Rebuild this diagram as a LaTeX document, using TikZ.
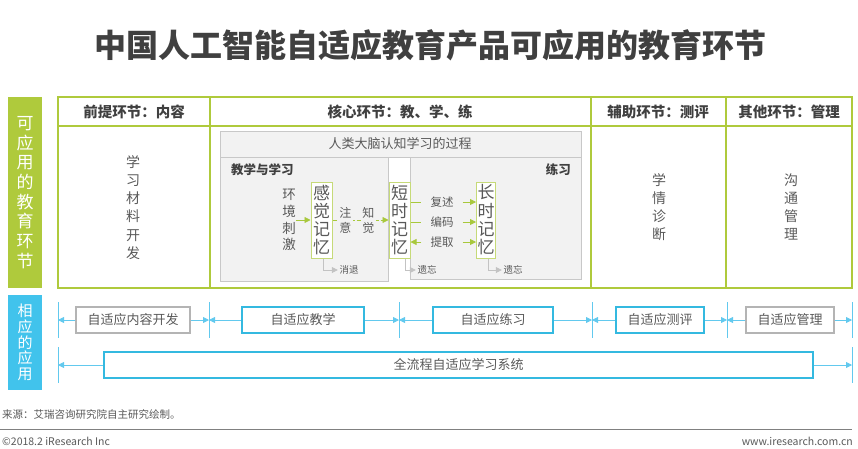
\documentclass[tikz,border=0pt]{standalone}
\usepackage{fontspec}
\setmainfont{Noto Sans CJK SC}
\usetikzlibrary{positioning, arrows.meta}
\definecolor{irgreen}{HTML}{AFCA3C}
\definecolor{memgreen}{HTML}{C6DA78}
\definecolor{arrgreen}{HTML}{A8C83C}
\definecolor{irblue}{HTML}{41C3EC}
\definecolor{boxblue}{HTML}{34B9E0}
\definecolor{lineblue}{HTML}{62C9EE}
\definecolor{boxgray}{HTML}{B4B4B4}
\definecolor{txtgray}{HTML}{595959}
\definecolor{darktxt}{HTML}{404040}
\definecolor{panelfill}{HTML}{F2F2F2}
\definecolor{panelline}{HTML}{C8C8C8}

\begin{document}
\begin{tikzpicture}[
    x=1pt, y=-1pt,
    bar/.style={minimum width=34, inner sep=0pt, align=center, text=white},
    head/.style={inner sep=0pt, text=darktxt, font=\bfseries\fontsize{14.5}{16}\selectfont},
    vert/.style={inner sep=0pt, align=center, text=txtgray, font=\fontsize{14}{18.2}\selectfont},
    mem/.style={draw=memgreen, line width=1pt, fill=white, minimum width=21, minimum height=76,
                inner sep=0pt, align=center, text=txtgray, font=\fontsize{17}{18.3}\selectfont},
    vlab/.style={inner sep=1.5pt, fill=panelfill, align=center, text=txtgray, font=\fontsize{12}{15}\selectfont},
    lab/.style={inner xsep=9pt, inner ysep=1pt, text=txtgray, font=\fontsize{11.5}{13}\selectfont},
    tiny/.style={inner sep=1.5pt, text=txtgray, font=\fontsize{9.5}{11}\selectfont},
    panel/.style={draw=panelline, fill=panelfill, line width=0.8pt},
    tab/.style={draw=irgreen, line width=2pt},
    tabin/.style={draw=irgreen, line width=1.5pt},
    garrow/.style={draw=arrgreen, line width=0.8pt, -{Triangle[length=6pt, width=6pt]}},
    gline/.style={draw=arrgreen, line width=0.8pt},
    gdash/.style={garrow, dash pattern=on 4pt off 2pt},
    yarrow/.style={draw=boxgray!80, line width=0.8pt, -{Triangle[length=6pt, width=6pt]}},
    app/.style={draw=boxblue, line width=2pt, minimum height=26, inner sep=0pt, text=txtgray,
                font=\fontsize{13}{15}\selectfont},
    appgray/.style={app, draw=boxgray},
    barrow/.style={draw=lineblue, line width=0.8pt, -{Triangle[length=6pt, width=6pt]}},
    bline/.style={draw=lineblue, line width=0.8pt},
    foot/.style={inner sep=0pt, text=txtgray, font=\fontsize{10.5}{12}\selectfont}
]
\useasboundingbox (0,0) rectangle (858,448);

% Title
\node[text=darktxt, font=\bfseries\fontsize{32}{36}\selectfont] (title) at (430,45)
    {中国人工智能自适应教育产品可应用的教育环节};

% Side bars
\node[bar, fill=irgreen, minimum height=191, font=\fontsize{17}{19.7}\selectfont] (barstage) at (25,192.5)
    {可\\应\\用\\的\\教\\育\\环\\节};
\node[bar, fill=irblue, minimum height=95, font=\fontsize{15}{15.8}\selectfont] (barapp) at (25,342.5)
    {相\\应\\的\\应\\用};

% Table of stages
\draw[tab] (58,97) rectangle (852,288);
\draw[tabin] (58,126) -- (852,126);
\foreach \x in {210,591,726}
    \draw[tabin] (\x,97) -- (\x,288);
\node[head] (hpre) at (134,112) {前提环节：内容};
\node[head] (hcore) at (400,112) {核心环节：教、学、练};
\node[head] (haux) at (658,112) {辅助环节：测评};
\node[head] (hother) at (789,112) {其他环节：管理};
\node[vert] (material) at (133,207.5) {学\\习\\材\\料\\开\\发};
\node[vert] (diagnose) at (659,207) {学\\情\\诊\\断};
\node[vert] (communicate) at (791,207) {沟\\通\\管\\理};

% Learning process panels
\draw[panel] (220,131) rectangle (581,157);
\draw[panel] (220,157) rectangle (388,281);
\draw[panel] (410,157) rectangle (581,279);
\node[inner sep=0pt, text=txtgray, font=\fontsize{13}{15}\selectfont] (process) at (400,144)
    {人类大脑认知学习的过程};
\node[inner sep=0pt, anchor=west, text=darktxt, font=\bfseries\fontsize{12.5}{14}\selectfont] (teachlearn) at (231,170)
    {教学与学习};
\node[inner sep=0pt, anchor=east, text=darktxt, font=\bfseries\fontsize{12.5}{14}\selectfont] (practise) at (571,170)
    {练习};

% Memory stages
\node[inner sep=0pt, align=center, text=txtgray, font=\fontsize{13.5}{16.7}\selectfont] (stim) at (289,220)
    {环\\境\\刺\\激};
\node[mem] (sensory) at (321.5,220) {感\\觉\\记\\忆};
\node[mem] (short) at (399.5,220) {短\\时\\记\\忆};
\node[mem, minimum width=19] (long) at (486,220) {长\\时\\记\\忆};

\draw[garrow] (stim) -- (sensory);
\draw[gdash] (sensory) -- node[pos=.23, vlab] {注\\意} node[pos=.64, vlab] {知\\觉} (short);

\node[lab] (rehearse) at (442,202) {复述};
\node[lab] (encode) at (442,222) {编码};
\node[lab] (retrieve) at (442,242) {提取};
\draw[gline] (rehearse -| short.east) -- (rehearse);
\draw[garrow] (rehearse) -- (rehearse -| long.west);
\draw[gline] (encode -| short.east) -- (encode);
\draw[garrow] (encode) -- (encode -| long.west);
\draw[garrow] (retrieve) -- (retrieve -| short.east);
\draw[garrow] (retrieve) -- (retrieve -| long.west);

% Decay and forgetting
\node[tiny] (fade) at (349,270) {消退};
\node[tiny] (forgetshort) at (427,270) {遗忘};
\node[tiny] (forgetlong) at (513,270) {遗忘};
\draw[yarrow] ([xshift=1.5pt]sensory.south) |- (fade.west);
\draw[yarrow] ([xshift=5.5pt]short.south) |- (forgetshort.west);
\draw[yarrow] ([xshift=2pt]long.south) |- (forgetlong.west);

% Applications
\coordinate (s0) at (58,320);
\coordinate (s1) at (209,320);
\coordinate (s2) at (399,320);
\coordinate (s3) at (592,320);
\coordinate (s4) at (727,320);
\coordinate (s5) at (852,320);
\coordinate (t0) at (58,365);
\coordinate (t1) at (852,365);
\foreach \c in {s0,s1,s2,s3,s4,s5,t0,t1}
    \draw[bline] ([yshift=18pt]\c) -- ([yshift=-18pt]\c);

\node[appgray, minimum width=114] (content) at (133,320) {自适应内容开发};
\node[app, minimum width=122] (teach) at (303,320) {自适应教学};
\node[app, minimum width=120] (practice) at (493,320) {自适应练习};
\node[app, minimum width=88] (assess) at (660,320) {自适应测评};
\node[appgray, minimum width=88] (manage) at (790,320) {自适应管理};
\node[app, minimum width=709] (system) at (458.5,365) {全流程自适应学习系统};

\draw[barrow] (content) -- (s0);
\draw[barrow] (content) -- (s1);
\draw[barrow] (teach) -- (s1);
\draw[barrow] (teach) -- (s2);
\draw[barrow] (practice) -- (s2);
\draw[barrow] (practice) -- (s3);
\draw[barrow] (assess) -- (s3);
\draw[barrow] (assess) -- (s4);
\draw[barrow] (manage) -- (s4);
\draw[barrow] (manage) -- (s5);
\draw[barrow] (system) -- (t0);
\draw[barrow] (system) -- (t1);

% Footer
\node[foot, anchor=west] (source) at (2,415) {来源：艾瑞咨询研究院自主研究绘制。};
\draw[draw=gray, line width=0.8pt] (0,429) -- (852,429);
\node[foot, anchor=west] (copyright) at (2,441) {©2018.2 iResearch Inc};
\node[foot, anchor=east] (website) at (853,441) {www.iresearch.com.cn};
\end{tikzpicture}
\end{document}
